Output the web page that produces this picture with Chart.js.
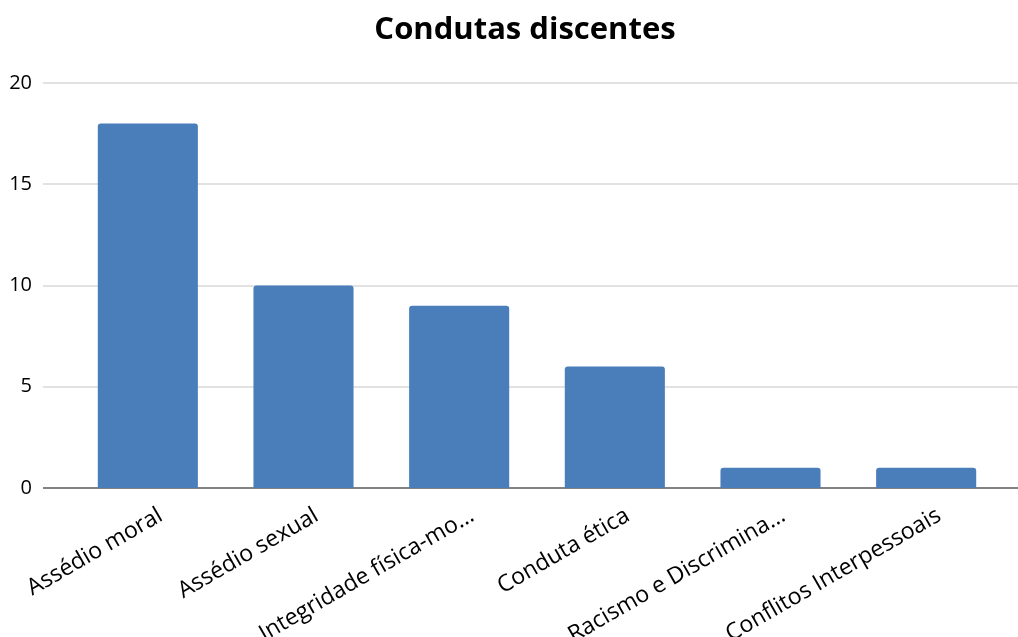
<!DOCTYPE html>
<html>
<head>
<meta charset="utf-8">
<script src="https://cdn.jsdelivr.net/npm/chart.js@4"></script>
<style>
  html, body { margin: 0; padding: 0; background: #fff; }
  #wrap { width: 1018px; height: 637px; }
</style>
</head>
<body>
<div id="wrap"><canvas id="barChart"></canvas></div>
<script>
const chartTitle = 'Condutas discentes';
const categories = [
    'Assédio moral',
    'Assédio sexual',
    'Integridade física-mo…',
    'Conduta ética',
    'Racismo e Discrimina…',
    'Conflitos Interpessoais'
];
const counts = [18, 10, 9, 6, 1, 1];
const yTicks = [0, 5, 10, 15, 20];

// y gridlines run wider than the bar area, so draw them from the y scale
const wideGrid = {
    id: 'wideGrid',
    beforeDatasetsDraw(chart) {
        const ctx = chart.ctx;
        const y = chart.scales.y;
        ctx.save();
        y.ticks.forEach(t => {
            const py = Math.round(y.getPixelForValue(t.value));
            ctx.beginPath();
            ctx.strokeStyle = t.value === 0 ? '#595959' : '#d9d9d9';
            ctx.lineWidth = 1.5;
            ctx.moveTo(43, py);
            ctx.lineTo(1018, py);
            ctx.stroke();
        });
        ctx.restore();
    }
};

// title sits a bit right of the canvas centre, as in the original
const titleText = {
    id: 'titleText',
    afterDraw(chart) {
        const ctx = chart.ctx;
        ctx.save();
        ctx.font = 'bold 31px "Open Sans"';
        ctx.fillStyle = '#000';
        ctx.textAlign = 'center';
        ctx.textBaseline = 'middle';
        ctx.fillText(chartTitle, 525, 30);
        ctx.restore();
    }
};

const myChart = new Chart(document.getElementById('barChart'), {
    type: 'bar',
    data: {
        labels: categories,
        datasets: [{
            label: chartTitle,
            data: counts,
            backgroundColor: '#4a7ebb',
            borderRadius: { topLeft: 3, topRight: 3 },
            borderSkipped: 'bottom',
            categoryPercentage: 1,
            barPercentage: 0.643
        }]
    },
    options: {
        responsive: true,
        maintainAspectRatio: false,
        animation: false,
        layout: { padding: { left: 0, right: 14, top: 83, bottom: 0 } },
        plugins: {
            legend: { display: false },
            tooltip: { enabled: false },
            title: { display: false }
        },
        scales: {
            x: {
                grid: { display: false, drawTicks: false },
                border: { display: false },
                ticks: {
                    color: '#000',
                    font: { family: 'Open Sans', size: 23 },
                    minRotation: 30,
                    maxRotation: 30,
                    autoSkip: false,
                    padding: 14,
                    labelOffset: 13
                },
                afterFit(scale) {
                    scale.height = 149;
                    scale.paddingLeft = 0;
                    scale.paddingRight = 0;
                }
            },
            y: {
                min: 0,
                max: 20,
                afterBuildTicks(scale) { scale.ticks = yTicks.map(v => ({ value: v })); },
                grid: { display: false, drawTicks: false },
                border: { display: false },
                ticks: {
                    color: '#000',
                    font: { family: 'Open Sans', size: 20 },
                    padding: 38
                },
                afterFit(scale) { scale.width = 70; }
            }
        }
    },
    plugins: [wideGrid, titleText]
});
</script>
</body>
</html>
